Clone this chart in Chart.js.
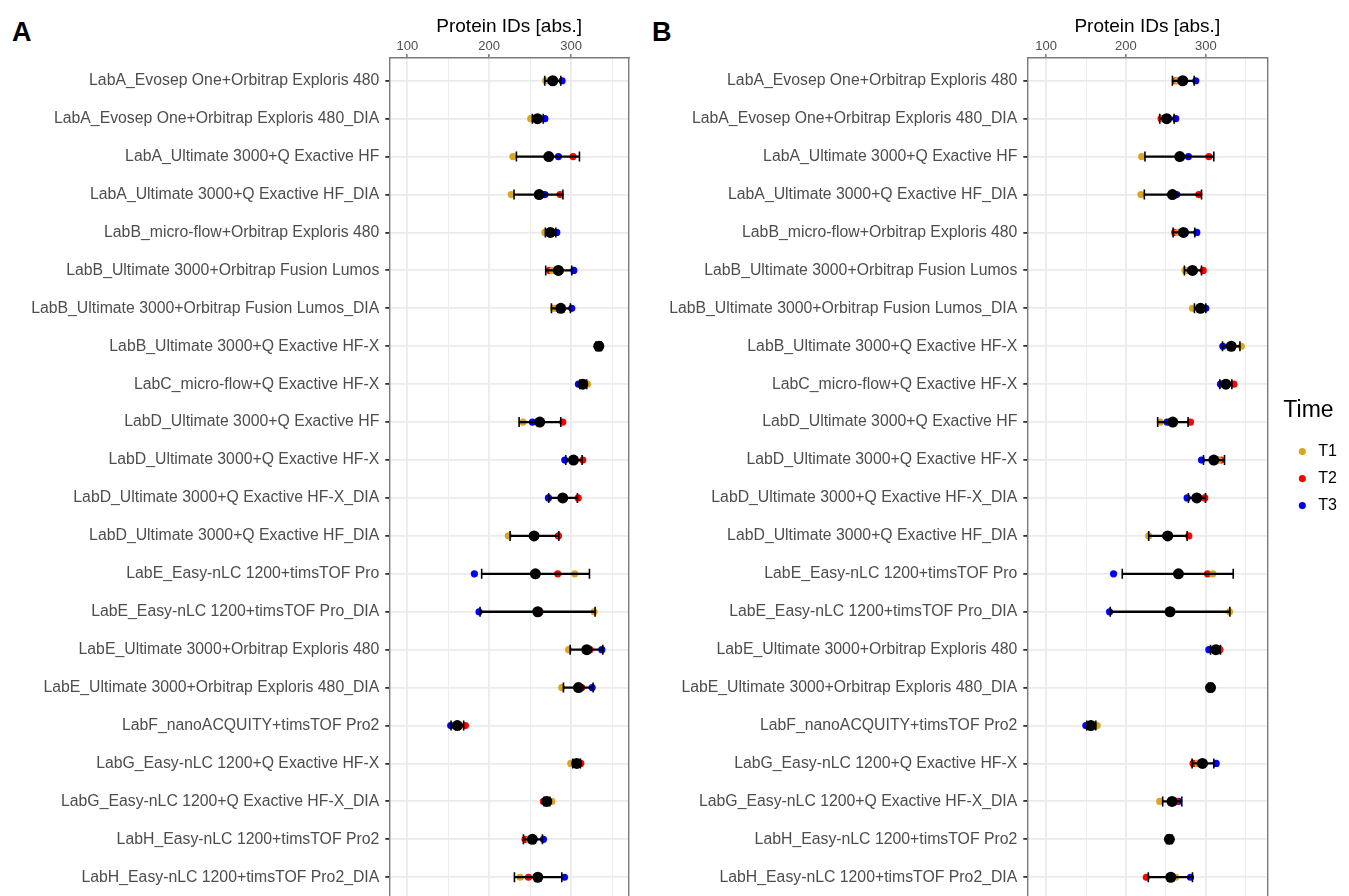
<!DOCTYPE html>
<html lang="en">
<head>
<meta charset="UTF-8">
<title>Protein IDs per lab</title>
<script src="https://cdn.jsdelivr.net/npm/chart.js"></script>
<style>
  body { margin: 0; background: #fff; overflow: hidden; font-family: "Liberation Sans", Arial, sans-serif; }
  .panel { position: absolute; top: 0; height: 900px; }
  .tag { position: absolute; top: 19px; font-size: 27px; line-height: 27px; font-weight: bold; color: #000; }
</style>
</head>
<body>
<div class="tag" style="left:12px">A</div>
<div class="tag" style="left:652px">B</div>
<div class="panel" style="left:0;width:630px"><canvas id="chartA"></canvas></div>
<div class="panel" style="left:640px;width:709px"><canvas id="chartB"></canvas></div>

<script>
// categories, top to bottom
const categories = [
  'LabA_Evosep One+Orbitrap Exploris 480',
  'LabA_Evosep One+Orbitrap Exploris 480_DIA',
  'LabA_Ultimate 3000+Q Exactive HF',
  'LabA_Ultimate 3000+Q Exactive HF_DIA',
  'LabB_micro-flow+Orbitrap Exploris 480',
  'LabB_Ultimate 3000+Orbitrap Fusion Lumos',
  'LabB_Ultimate 3000+Orbitrap Fusion Lumos_DIA',
  'LabB_Ultimate 3000+Q Exactive HF-X',
  'LabC_micro-flow+Q Exactive HF-X',
  'LabD_Ultimate 3000+Q Exactive HF',
  'LabD_Ultimate 3000+Q Exactive HF-X',
  'LabD_Ultimate 3000+Q Exactive HF-X_DIA',
  'LabD_Ultimate 3000+Q Exactive HF_DIA',
  'LabE_Easy-nLC 1200+timsTOF Pro',
  'LabE_Easy-nLC 1200+timsTOF Pro_DIA',
  'LabE_Ultimate 3000+Orbitrap Exploris 480',
  'LabE_Ultimate 3000+Orbitrap Exploris 480_DIA',
  'LabF_nanoACQUITY+timsTOF Pro2',
  'LabG_Easy-nLC 1200+Q Exactive HF-X',
  'LabG_Easy-nLC 1200+Q Exactive HF-X_DIA',
  'LabH_Easy-nLC 1200+timsTOF Pro2',
  'LabH_Easy-nLC 1200+timsTOF Pro2_DIA'
];
const xTickLabels = [100, 200, 300];
const xMinorTicks = [150, 250, 350];
const timeLabels = ['T1', 'T2', 'T3'];

// panel A
const A_T1 = [269, 250.7, 229, 227, 268, 277, 278.4, 335, 320, 241.3, 302, 288, 223.4, 304.5, 328.1, 297, 288.6, 160, 299.6, 276.4, 249, 237.7];
const A_T2 = [275, 258, 302.4, 286.5, 273.5, 273.5, 283, 332, 314, 289.8, 314.3, 308.6, 284.5, 283.7, 262, 323, 313, 170.9, 311.8, 266.2, 243.8, 247.9];
const A_T3 = [289, 268, 284.5, 268, 282.5, 303.3, 300.8, 334.5, 309, 252.7, 292.3, 272.3, 256, 181.9, 187.6, 337.5, 325.7, 153, 306, 269, 266.2, 291.9];
const A_mean = [277.6, 259, 272.7, 261, 274.7, 284.5, 287.4, 333.8, 314.3, 261.7, 302.9, 289.8, 254.8, 256.4, 259.3, 319.1, 309, 161.1, 306.9, 270.3, 252.7, 259.3];
const A_low = [267.8, 252.7, 233.2, 230.3, 268.6, 269, 276, 330.5, 310.6, 236.5, 293.5, 272.7, 225.5, 190.8, 188.8, 298.8, 290.6, 153.4, 302, 267, 241.8, 230.8];
const A_high = [287.4, 266, 310.2, 290, 281.3, 300.8, 299.2, 336.7, 319, 287.4, 313.4, 307.7, 285, 322.4, 329.3, 338.7, 326.9, 168.8, 311.4, 274, 265, 288.6];

// panel B
const B_T1 = [264, 246, 219.7, 218.8, 265, 274, 283.3, 344.4, 322, 243.1, 316, 291, 228.5, 308.8, 329.7, 316, 306, 164, 290, 242.3, 254, 262.3];
const B_T2 = [262, 244, 303.8, 291.2, 261, 296.7, 296, 330, 335.1, 280.8, 319.2, 298.7, 278.7, 302.1, 256, 317.6, 305, 155, 284.1, 263, 255, 225.5];
const B_T3 = [287.4, 262.3, 278.2, 263.6, 288.7, 280, 300, 321.3, 318.4, 251.5, 294.6, 276.6, 250, 184.5, 179.5, 303.8, 307, 149.8, 313, 265.7, 254, 280.8];
const B_mean = [271.1, 251, 267.4, 258.2, 272, 283.3, 293.3, 331.8, 325.1, 258.6, 310, 288.7, 252.3, 265.7, 255.2, 312.6, 305.9, 156.1, 295.8, 257.7, 254.4, 256.1];
const B_low = [258.2, 242.3, 223.8, 223, 259, 273.2, 285.8, 320.9, 317.6, 239.7, 297.1, 278.2, 228.5, 195.4, 180.3, 305.9, 303.5, 151, 282.8, 246, 251.5, 228];
const B_high = [285.4, 260.3, 310, 294.6, 286.2, 294.6, 300, 342.7, 332.6, 277.8, 323.4, 299.6, 276.6, 334.3, 330.1, 318.4, 308.5, 162.3, 310, 269.9, 257.7, 283.3];

// styles
const timeColors = ['#DAA520', '#FF0000', '#0000FF'];
const gridColor = '#ebebeb';
const frameColor = '#7a7a7a';

Chart.defaults.font.family = "'Liberation Sans', Arial, sans-serif";
Chart.defaults.color = '#4d4d4d';

const rowPoints = (values) => values.map((v, i) => ({ x: v, y: i }));

// fixed axis box, no extra label padding pushed into the layout
function fixBox(s, w, h) {
    if (w !== null) s.width = w;
    if (h !== null) s.height = h;
    s.paddingLeft = s.paddingRight = s.paddingTop = s.paddingBottom = 0;
}

function makePanel(id, series, mean, low, high, xMin, xMax, axisWidth, gap, showLegend, padRight) {
    const datasets = series.map((values, k) => ({
        type: 'scatter',
        label: timeLabels[k],
        data: rowPoints(values),
        pointBackgroundColor: timeColors[k],
        backgroundColor: timeColors[k],
        pointBorderWidth: 0,
        pointRadius: 3.6,
        order: 3
    }));
    // mean +- sd line
    datasets.push({
        type: 'bar',
        label: 'sd',
        data: low.map((v, i) => ({ x: [v, high[i]], y: i })),
        backgroundColor: '#000',
        barThickness: 1.6,
        order: 2
    });
    // whisker caps
    datasets.push({
        type: 'scatter',
        label: 'caps',
        data: rowPoints(low).concat(rowPoints(high)),
        pointStyle: 'line',
        pointRotation: 90,
        pointRadius: 5,
        pointBorderColor: '#000',
        pointBorderWidth: 1.6,
        order: 1
    });
    datasets.push({
        type: 'scatter',
        label: 'mean',
        data: rowPoints(mean),
        pointBackgroundColor: '#000',
        pointBorderWidth: 0,
        pointRadius: 5.5,
        order: 0
    });

    const isMajor = (v) => xTickLabels.includes(v);

    new Chart(document.getElementById(id), {
        type: 'bar',
        data: { datasets: datasets },
        options: {
            indexAxis: 'y',
            responsive: true,
            maintainAspectRatio: false,
            animation: false,
            events: [],
            layout: { autoPadding: false, padding: { left: 0, top: 0, bottom: 0, right: padRight } },
            scales: {
                x: {
                    type: 'linear',
                    position: 'top',
                    min: xMin,
                    max: xMax,
                    afterBuildTicks: (s) => {
                        s.ticks = xTickLabels.concat(xMinorTicks).sort((a, b) => a - b).map(v => ({ value: v }));
                    },
                    afterFit: (s) => fixBox(s, null, 58),
                    ticks: {
                        autoSkip: false,
                        maxRotation: 0,
                        padding: 0,
                        font: { size: 13 },
                        color: '#4d4d4d',
                        callback: (v) => isMajor(v) ? String(v) : ''
                    },
                    grid: {
                        color: gridColor,
                        lineWidth: (c) => isMajor(c.tick.value) ? 1.8 : 0.9,
                        tickLength: 4,
                        tickWidth: 1,
                        tickColor: (c) => isMajor(c.tick.value) ? '#333' : 'rgba(0,0,0,0)'
                    },
                    border: { color: frameColor, width: 1.4 },
                    title: {
                        display: true,
                        text: 'Protein IDs [abs.]',
                        color: '#000',
                        font: { size: 19 },
                        padding: { top: 15, bottom: 0 }
                    }
                },
                y: {
                    type: 'linear',
                    reverse: true,
                    offset: false,
                    min: -0.6,
                    max: categories.length - 0.4,
                    afterBuildTicks: (s) => { s.ticks = categories.map((c, i) => ({ value: i })); },
                    afterFit: (s) => fixBox(s, axisWidth, null),
                    ticks: {
                        autoSkip: false,
                        padding: 6,
                        font: { size: 15.8 },
                        color: '#4d4d4d',
                        callback: (v) => categories[v]
                    },
                    grid: { offset: false, color: gridColor, lineWidth: 1.8, tickLength: 4, tickColor: '#333' },
                    border: { color: frameColor, width: 1.4 }
                },
                // right frame of the panel
                edge: {
                    type: 'linear',
                    position: 'right',
                    afterFit: (s) => fixBox(s, gap, null),
                    ticks: { display: false },
                    grid: { display: false, drawTicks: false },
                    border: { display: true, color: frameColor, width: 1.4 }
                }
            },
            plugins: {
                tooltip: { enabled: false },
                legend: {
                    display: showLegend,
                    position: 'right',
                    align: 'start',
                    title: {
                        display: true,
                        text: 'Time',
                        color: '#000',
                        position: 'start',
                        font: { size: 23 },
                        padding: { top: 399, bottom: 6 }
                    },
                    labels: {
                        usePointStyle: true,
                        boxHeight: 5,
                        padding: 11,
                        color: '#000',
                        font: { size: 16 },
                        filter: (item) => timeLabels.includes(item.text)
                    }
                }
            }
        }
    });
}

makePanel('chartA', [A_T1, A_T2, A_T3], A_mean, A_low, A_high, 78, 370.7, 389.3, 1, false, 0);
makePanel('chartB', [B_T1, B_T2, B_T3], B_mean, B_low, B_high, 76.5, 377, 387.3, 16, true, 2);
</script>
</body>
</html>
